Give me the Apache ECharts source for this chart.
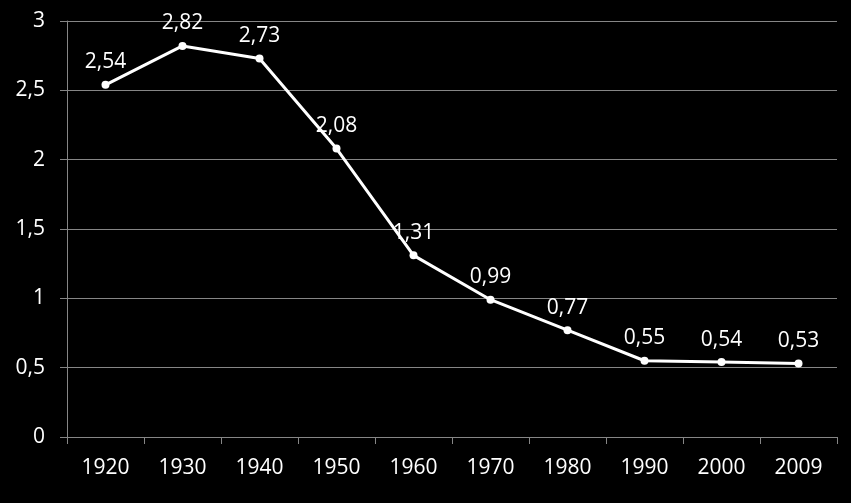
<!DOCTYPE html>
<html>
<head>
<meta charset="utf-8">
<script src="https://cdn.jsdelivr.net/npm/echarts@6/dist/echarts.min.js"></script>
<style>
html,body{margin:0;padding:0;background:#000;}
#chart{width:851px;height:503px;}
</style>
</head>
<body>
<div id="chart"></div>
<script>
var categories = ['1920','1930','1940','1950','1960','1970','1980','1990','2000','2009'];
var values = [2.54, 2.82, 2.73, 2.08, 1.31, 0.99, 0.77, 0.55, 0.54, 0.53];
var yTicks = [0, 0.5, 1, 1.5, 2, 2.5, 3];

function comma(v){ return String(v).replace('.', ','); }

var chart = echarts.init(document.getElementById('chart'), null, {renderer:'canvas'});
chart.setOption({
  backgroundColor: '#000000',
  animation: false,
  grid: {left: 67, right: 14, top: 21, bottom: 66},
  xAxis: {
    type: 'category',
    data: categories,
    boundaryGap: true,
    axisLine: {lineStyle: {color: '#868686', width: 1}},
    axisTick: {show: true, length: 7, lineStyle: {color: '#868686'}},
    axisLabel: {color: '#ffffff', fontFamily: 'Open Sans', fontSize: 21, margin: 21}
  },
  yAxis: {
    type: 'value',
    min: yTicks[0],
    max: yTicks[yTicks.length - 1],
    interval: 0.5,
    axisLine: {show: true, lineStyle: {color: '#868686', width: 1}},
    axisTick: {show: true, length: 7, lineStyle: {color: '#868686'}},
    splitLine: {lineStyle: {color: '#868686', width: 1}},
    axisLabel: {color: '#ffffff', fontFamily: 'Open Sans', fontSize: 21, margin: 22,
      formatter: function(v){ return comma(v); }}
  },
  series: [{
    type: 'line',
    data: values,
    symbol: 'circle',
    symbolSize: 8,
    lineStyle: {color: '#ffffff', width: 3},
    itemStyle: {color: '#ffffff'},
    label: {
      show: true,
      position: 'top',
      distance: 8,
      color: '#ffffff',
      fontFamily: 'Open Sans',
      fontSize: 21,
      formatter: function(p){ return comma(p.value); }
    }
  }]
});
</script>
</body>
</html>
